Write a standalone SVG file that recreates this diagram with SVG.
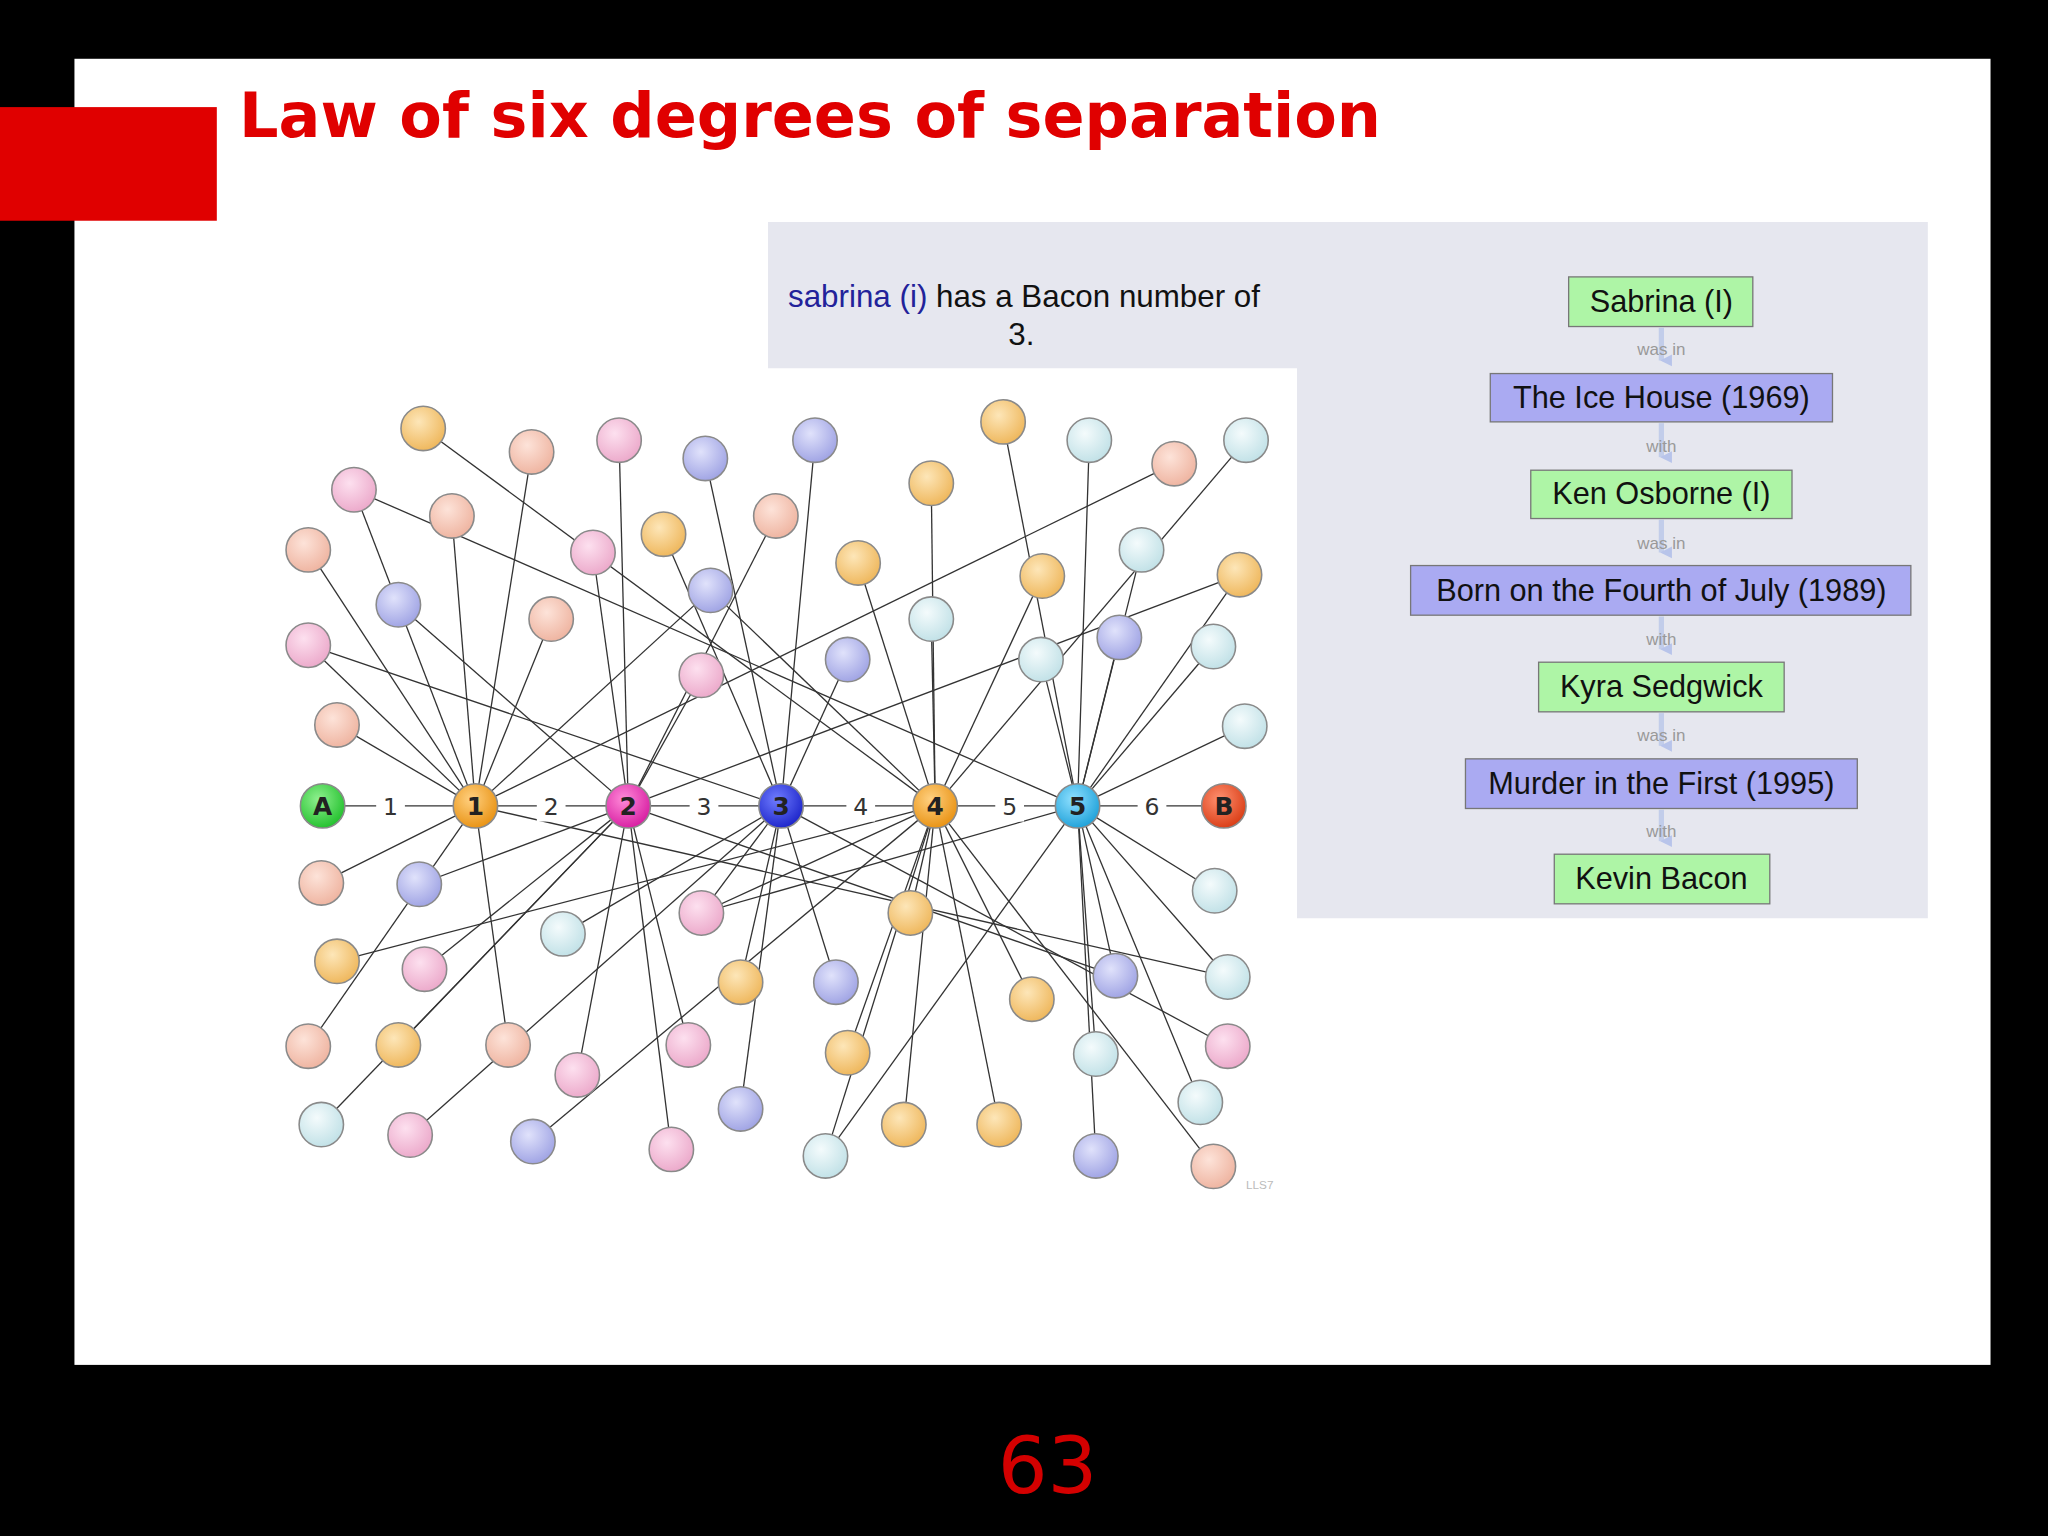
<svg xmlns="http://www.w3.org/2000/svg" width="2048" height="1536" viewBox="0 0 2048 1536">
<defs>
<radialGradient id="go" cx="0.4" cy="0.35" r="0.7"><stop offset="0" stop-color="#fde6b8"/><stop offset="1" stop-color="#eeb558"/></radialGradient>
<radialGradient id="gp" cx="0.4" cy="0.35" r="0.7"><stop offset="0" stop-color="#fde0ef"/><stop offset="1" stop-color="#eba7c9"/></radialGradient>
<radialGradient id="gs" cx="0.4" cy="0.35" r="0.7"><stop offset="0" stop-color="#fde3d9"/><stop offset="1" stop-color="#eeb29e"/></radialGradient>
<radialGradient id="gb" cx="0.4" cy="0.35" r="0.7"><stop offset="0" stop-color="#e0e2fb"/><stop offset="1" stop-color="#9da1e3"/></radialGradient>
<radialGradient id="gc" cx="0.4" cy="0.35" r="0.7"><stop offset="0" stop-color="#f4fbfc"/><stop offset="1" stop-color="#bfe0e6"/></radialGradient>
<radialGradient id="hA" cx="0.4" cy="0.35" r="0.7"><stop offset="0" stop-color="#8ff08f"/><stop offset="1" stop-color="#1fbf2a"/></radialGradient>
<radialGradient id="hO" cx="0.4" cy="0.35" r="0.7"><stop offset="0" stop-color="#ffd080"/><stop offset="1" stop-color="#e8900f"/></radialGradient>
<radialGradient id="hM" cx="0.4" cy="0.35" r="0.7"><stop offset="0" stop-color="#ff8ad8"/><stop offset="1" stop-color="#d61aa0"/></radialGradient>
<radialGradient id="hB" cx="0.4" cy="0.35" r="0.7"><stop offset="0" stop-color="#6f7cff"/><stop offset="1" stop-color="#1a22c8"/></radialGradient>
<radialGradient id="hC" cx="0.4" cy="0.35" r="0.7"><stop offset="0" stop-color="#8fe0ff"/><stop offset="1" stop-color="#1b9fd8"/></radialGradient>
<radialGradient id="hR" cx="0.4" cy="0.35" r="0.7"><stop offset="0" stop-color="#ff9070"/><stop offset="1" stop-color="#d83a12"/></radialGradient>
<marker id="ar" viewBox="0 0 10 10" refX="5" refY="9" markerUnits="userSpaceOnUse" markerWidth="10" markerHeight="9" orient="auto"><path d="M0,0 L10,0 L5,10 z" fill="#b8c4ea"/></marker>
</defs>
<style>
.n circle{stroke:#8a8a8a;stroke-width:1.2}
.e line{stroke:#333;stroke-width:1}
.bx{stroke:#777;stroke-width:1}
.g{fill:#aef5a6}.v{fill:#aaaaf2}
.bt{font-family:"Liberation Sans",Arial,sans-serif;font-size:23.5px;fill:#111;text-anchor:middle}
.lb{font-family:"Liberation Sans",Arial,sans-serif;font-size:13px;fill:#999;text-anchor:middle}
.hl{font-family:"DejaVu Sans",sans-serif;font-size:19px;font-weight:bold;fill:#222;text-anchor:middle}
.nl{font-family:"DejaVu Sans",sans-serif;font-size:18px;fill:#333;text-anchor:middle}
</style>
<rect width="2048" height="1536" fill="#000"/>
<g transform="scale(1.30612)">
<rect x="57" y="45" width="1467" height="1000" fill="#fff"/>
<rect x="0" y="82" width="166" height="87" fill="#e00000"/>
<text x="183" y="105" font-family="DejaVu Sans,sans-serif" font-weight="bold" font-size="47.5" fill="#e00000">Law of six degrees of separation</text>
<text x="802" y="1143" font-family="DejaVu Sans,sans-serif" font-size="60" fill="#d40000" text-anchor="middle">63</text>
<path d="M588,170 H1476 V703 H993 V282 H588 Z" fill="#e6e7ef"/>
<text x="784" y="235" font-family="Liberation Sans,Arial,sans-serif" font-size="24" text-anchor="middle"><tspan fill="#22229a">sabrina (i)</tspan><tspan fill="#111"> has a Bacon number of</tspan></text>
<text x="782" y="264" font-family="Liberation Sans,Arial,sans-serif" font-size="24" fill="#111" text-anchor="middle">3.</text>
<g id="chain-arrows" stroke="#c2cdea" stroke-width="4" marker-end="url(#ar)">
<line x1="1272" y1="251" x2="1272" y2="276"/><line x1="1272" y1="324" x2="1272" y2="350"/><line x1="1272" y1="398" x2="1272" y2="423"/><line x1="1272" y1="472" x2="1272" y2="497"/><line x1="1272" y1="546" x2="1272" y2="571"/><line x1="1272" y1="620" x2="1272" y2="644"/>
</g>
<g class="lb"><text x="1272" y="272">was in</text><text x="1272" y="346">with</text><text x="1272" y="420">was in</text><text x="1272" y="494">with</text><text x="1272" y="567">was in</text><text x="1272" y="641">with</text></g>
<g id="c1"><rect class="bx g" x="1201" y="212" width="141" height="38"/><text class="bt" x="1272" y="239">Sabrina (I)</text></g>
<g id="c2"><rect class="bx v" x="1141" y="286" width="262" height="37"/><text class="bt" x="1272" y="312">The Ice House (1969)</text></g>
<g id="c3"><rect class="bx g" x="1172" y="360" width="200" height="37"/><text class="bt" x="1272" y="386">Ken Osborne (I)</text></g>
<g id="c4"><rect class="bx v" x="1080" y="433" width="383" height="38"/><text class="bt" x="1272" y="460">Born on the Fourth of July (1989)</text></g>
<g id="c5"><rect class="bx g" x="1178" y="507" width="188" height="38"/><text class="bt" x="1272" y="534">Kyra Sedgwick</text></g>
<g id="c6"><rect class="bx v" x="1122" y="581" width="300" height="38"/><text class="bt" x="1272" y="608">Murder in the First (1995)</text></g>
<g id="c7"><rect class="bx g" x="1190" y="654" width="165" height="38"/><text class="bt" x="1272" y="681">Kevin Bacon</text></g>
<g id="edges" class="e">
<line x1="247" y1="617" x2="937" y2="617"/>
<line x1="364" y1="617" x2="271" y2="375"/><line x1="364" y1="617" x2="346" y2="395"/><line x1="364" y1="617" x2="236" y2="421"/><line x1="364" y1="617" x2="407" y2="346"/><line x1="364" y1="617" x2="236" y2="494"/><line x1="364" y1="617" x2="258" y2="555"/><line x1="364" y1="617" x2="246" y2="676"/><line x1="364" y1="617" x2="236" y2="801"/><line x1="364" y1="617" x2="422" y2="474"/><line x1="364" y1="617" x2="899" y2="355"/><line x1="364" y1="617" x2="544" y2="452"/><line x1="364" y1="617" x2="389" y2="800"/><line x1="364" y1="617" x2="940" y2="748"/>
<line x1="481" y1="617" x2="474" y2="337"/><line x1="481" y1="617" x2="454" y2="423"/><line x1="481" y1="617" x2="305" y2="463"/><line x1="481" y1="617" x2="537" y2="517"/><line x1="481" y1="617" x2="594" y2="395"/><line x1="481" y1="617" x2="321" y2="677"/><line x1="481" y1="617" x2="325" y2="742"/><line x1="481" y1="617" x2="442" y2="823"/><line x1="481" y1="617" x2="527" y2="800"/><line x1="481" y1="617" x2="514" y2="880"/><line x1="481" y1="617" x2="246" y2="861"/><line x1="481" y1="617" x2="305" y2="800"/><line x1="481" y1="617" x2="854" y2="747"/><line x1="481" y1="617" x2="949" y2="440"/>
<line x1="598" y1="617" x2="540" y2="351"/><line x1="598" y1="617" x2="508" y2="409"/><line x1="598" y1="617" x2="624" y2="337"/><line x1="598" y1="617" x2="649" y2="505"/><line x1="598" y1="617" x2="567" y2="752"/><line x1="598" y1="617" x2="640" y2="752"/><line x1="598" y1="617" x2="567" y2="849"/><line x1="598" y1="617" x2="537" y2="699"/><line x1="598" y1="617" x2="431" y2="715"/><line x1="598" y1="617" x2="236" y2="494"/><line x1="598" y1="617" x2="940" y2="801"/><line x1="598" y1="617" x2="314" y2="869"/>
<line x1="716" y1="617" x2="713" y2="370"/><line x1="716" y1="617" x2="657" y2="431"/><line x1="716" y1="617" x2="713" y2="474"/><line x1="716" y1="617" x2="798" y2="441"/><line x1="716" y1="617" x2="324" y2="328"/><line x1="716" y1="617" x2="544" y2="452"/><line x1="716" y1="617" x2="954" y2="337"/><line x1="716" y1="617" x2="697" y2="699"/><line x1="716" y1="617" x2="632" y2="885"/><line x1="716" y1="617" x2="692" y2="861"/><line x1="716" y1="617" x2="765" y2="861"/><line x1="716" y1="617" x2="258" y2="736"/><line x1="716" y1="617" x2="790" y2="765"/><line x1="716" y1="617" x2="649" y2="806"/><line x1="716" y1="617" x2="408" y2="874"/><line x1="716" y1="617" x2="929" y2="893"/><line x1="716" y1="617" x2="537" y2="699"/>
<line x1="825" y1="617" x2="834" y2="337"/><line x1="825" y1="617" x2="768" y2="323"/><line x1="825" y1="617" x2="874" y2="421"/><line x1="825" y1="617" x2="949" y2="440"/><line x1="825" y1="617" x2="797" y2="505"/><line x1="825" y1="617" x2="857" y2="488"/><line x1="825" y1="617" x2="929" y2="495"/><line x1="825" y1="617" x2="953" y2="556"/><line x1="825" y1="617" x2="930" y2="682"/><line x1="825" y1="617" x2="940" y2="748"/><line x1="825" y1="617" x2="854" y2="747"/><line x1="825" y1="617" x2="839" y2="807"/><line x1="825" y1="617" x2="919" y2="844"/><line x1="825" y1="617" x2="839" y2="885"/><line x1="825" y1="617" x2="632" y2="885"/><line x1="825" y1="617" x2="271" y2="375"/><line x1="825" y1="617" x2="537" y2="699"/>
</g>
<g id="nodes" class="n">
<circle cx="324" cy="328" r="17" fill="url(#go)"/><circle cx="407" cy="346" r="17" fill="url(#gs)"/><circle cx="474" cy="337" r="17" fill="url(#gp)"/><circle cx="540" cy="351" r="17" fill="url(#gb)"/><circle cx="624" cy="337" r="17" fill="url(#gb)"/><circle cx="768" cy="323" r="17" fill="url(#go)"/><circle cx="834" cy="337" r="17" fill="url(#gc)"/><circle cx="954" cy="337" r="17" fill="url(#gc)"/><circle cx="899" cy="355" r="17" fill="url(#gs)"/><circle cx="271" cy="375" r="17" fill="url(#gp)"/><circle cx="346" cy="395" r="17" fill="url(#gs)"/><circle cx="236" cy="421" r="17" fill="url(#gs)"/><circle cx="454" cy="423" r="17" fill="url(#gp)"/><circle cx="508" cy="409" r="17" fill="url(#go)"/><circle cx="594" cy="395" r="17" fill="url(#gs)"/><circle cx="713" cy="370" r="17" fill="url(#go)"/><circle cx="657" cy="431" r="17" fill="url(#go)"/><circle cx="544" cy="452" r="17" fill="url(#gb)"/><circle cx="874" cy="421" r="17" fill="url(#gc)"/><circle cx="949" cy="440" r="17" fill="url(#go)"/><circle cx="798" cy="441" r="17" fill="url(#go)"/><circle cx="305" cy="463" r="17" fill="url(#gb)"/><circle cx="422" cy="474" r="17" fill="url(#gs)"/><circle cx="713" cy="474" r="17" fill="url(#gc)"/><circle cx="236" cy="494" r="17" fill="url(#gp)"/><circle cx="649" cy="505" r="17" fill="url(#gb)"/><circle cx="537" cy="517" r="17" fill="url(#gp)"/><circle cx="797" cy="505" r="17" fill="url(#gc)"/><circle cx="857" cy="488" r="17" fill="url(#gb)"/><circle cx="929" cy="495" r="17" fill="url(#gc)"/><circle cx="258" cy="555" r="17" fill="url(#gs)"/><circle cx="953" cy="556" r="17" fill="url(#gc)"/>
<circle cx="246" cy="676" r="17" fill="url(#gs)"/><circle cx="321" cy="677" r="17" fill="url(#gb)"/><circle cx="930" cy="682" r="17" fill="url(#gc)"/><circle cx="431" cy="715" r="17" fill="url(#gc)"/><circle cx="537" cy="699" r="17" fill="url(#gp)"/><circle cx="697" cy="699" r="17" fill="url(#go)"/><circle cx="258" cy="736" r="17" fill="url(#go)"/><circle cx="325" cy="742" r="17" fill="url(#gp)"/><circle cx="567" cy="752" r="17" fill="url(#go)"/><circle cx="640" cy="752" r="17" fill="url(#gb)"/><circle cx="854" cy="747" r="17" fill="url(#gb)"/><circle cx="940" cy="748" r="17" fill="url(#gc)"/><circle cx="790" cy="765" r="17" fill="url(#go)"/><circle cx="236" cy="801" r="17" fill="url(#gs)"/><circle cx="305" cy="800" r="17" fill="url(#go)"/><circle cx="389" cy="800" r="17" fill="url(#gs)"/><circle cx="527" cy="800" r="17" fill="url(#gp)"/><circle cx="649" cy="806" r="17" fill="url(#go)"/><circle cx="839" cy="807" r="17" fill="url(#gc)"/><circle cx="940" cy="801" r="17" fill="url(#gp)"/><circle cx="442" cy="823" r="17" fill="url(#gp)"/><circle cx="919" cy="844" r="17" fill="url(#gc)"/><circle cx="567" cy="849" r="17" fill="url(#gb)"/><circle cx="246" cy="861" r="17" fill="url(#gc)"/><circle cx="314" cy="869" r="17" fill="url(#gp)"/><circle cx="408" cy="874" r="17" fill="url(#gb)"/><circle cx="514" cy="880" r="17" fill="url(#gp)"/><circle cx="632" cy="885" r="17" fill="url(#gc)"/><circle cx="692" cy="861" r="17" fill="url(#go)"/><circle cx="765" cy="861" r="17" fill="url(#go)"/><circle cx="839" cy="885" r="17" fill="url(#gb)"/><circle cx="929" cy="893" r="17" fill="url(#gs)"/>
</g>
<g id="pathlabels" class="nl">
<rect x="288" y="605" width="22" height="24" fill="#fff"/><text x="299" y="624">1</text>
<rect x="411" y="605" width="22" height="24" fill="#fff"/><text x="422" y="624">2</text>
<rect x="528" y="605" width="22" height="24" fill="#fff"/><text x="539" y="624">3</text>
<rect x="648" y="605" width="22" height="24" fill="#fff"/><text x="659" y="624">4</text>
<rect x="762" y="605" width="22" height="24" fill="#fff"/><text x="773" y="624">5</text>
<rect x="871" y="605" width="22" height="24" fill="#fff"/><text x="882" y="624">6</text>
</g>
<g id="hubs" class="n">
<circle cx="247" cy="617" r="17" fill="url(#hA)"/><text class="hl" x="247" y="624">A</text>
<circle cx="364" cy="617" r="17" fill="url(#hO)"/><text class="hl" x="364" y="624">1</text>
<circle cx="481" cy="617" r="17" fill="url(#hM)"/><text class="hl" x="481" y="624">2</text>
<circle cx="598" cy="617" r="17" fill="url(#hB)"/><text class="hl" x="598" y="624">3</text>
<circle cx="716" cy="617" r="17" fill="url(#hO)"/><text class="hl" x="716" y="624">4</text>
<circle cx="825" cy="617" r="17" fill="url(#hC)"/><text class="hl" x="825" y="624">5</text>
<circle cx="937" cy="617" r="17" fill="url(#hR)"/><text class="hl" x="937" y="624">B</text>
</g>
<text x="954" y="910" font-family="Liberation Sans,Arial,sans-serif" font-size="9" fill="#bbb">LLS7</text>
</g>
</svg>
